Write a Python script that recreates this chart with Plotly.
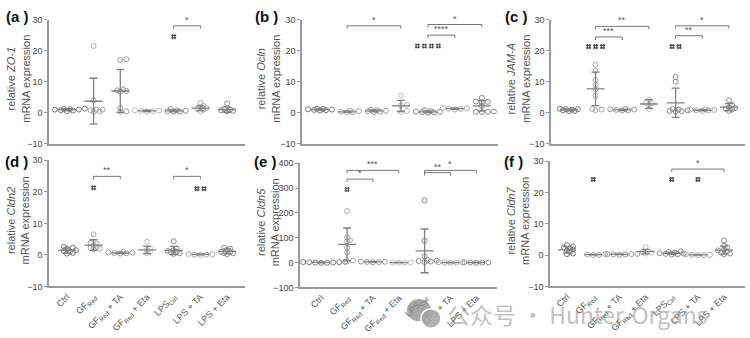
import plotly.graph_objects as go

W, H = 750, 338

groups = ["Ctrl", "GF<sub>Red</sub>", "GF<sub>Red</sub> + TA", "GF<sub>Red</sub> + Eta",
          "LPS<sub>Ctrl</sub>", "LPS + TA", "LPS + Eta"]

# ---------------- (a) ZO-1 ----------------
zo1_pts = [[0.5, 1.0, 1.2, 0.8, 1.0, 1.3, 0.7, 1.1],
           [21.5, 1.0, 0.5, 1.0, 0.3, 0.8, 4.0],
           [17.0, 17.2, 7.0, 7.2, 6.8, 7.5, 1.5, 0.3, 0.4],
           [0.4, 0.6, 0.8, 0.5, 0.7],
           [0.3, 0.5, 0.8, 1.2, 0.4, 0.6],
           [3.2, 1.5, 1.8, 1.0, 0.5, 2.2, 1.2],
           [3.0, 1.0, 0.5, 0.8, 1.2, 0.6]]
zo1_mean = [1.0, 3.7, 7.0, 0.6, 0.6, 1.5, 1.0]
zo1_sd = [0.3, 7.4, 6.9, 0.2, 0.3, 0.8, 0.9]
zo1_sig = [(4, 5, 28.0, "*")]
zo1_hash = [(4, 24.5, 1)]

# ---------------- (b) Ocln ----------------
ocln_pts = [[0.8, 1.2, 1.0, 1.3, 0.7, 1.1, 0.9],
            [0.2, 0.5, 0.1, 0.6, 0.3],
            [0.3, 0.6, 1.0, 0.5, 0.8, 0.2],
            [5.5, 2.5, 0.5, 0.2, 2.3],
            [0.2, 0.1, 0.5, 0.8, 0.3, 0.0, 0.4],
            [1.2, 1.5, 1.0, 1.3, 1.4],
            [4.8, 3.5, 3.3, 3.6, 2.2, 0.3, 0.2, 0.4, 0.3]]
ocln_mean = [1.0, 0.3, 0.6, 2.2, 0.3, 1.3, 2.2]
ocln_sd = [0.2, 0.2, 0.3, 1.8, 0.3, 0.2, 1.7]
ocln_sig = [(1, 3, 28.0, "*"), (4, 5, 25.0, "****"), (4, 6, 28.4, "*")]
ocln_hash = [(4, 21.5, 4)]

# ---------------- (c) JAM-A ----------------
jama_pts = [[0.5, 1.0, 1.2, 0.8, 0.6, 1.1, 1.3],
            [15.5, 13.5, 10.5, 9.0, 7.5, 5.5, 1.0, 0.8, 1.2],
            [1.0, 0.8, 1.2, 0.9, 1.1, 0.7],
            [4.2, 3.0, 2.5, 1.2, 3.2],
            [11.5, 10.0, 1.2, 0.5, 0.8, 0.3, 0.6, 1.0],
            [0.8, 1.0, 0.6, 0.9, 0.7, 1.1],
            [4.0, 2.5, 1.5, 1.2, 1.0, 1.8, 0.6]]
jama_mean = [0.9, 7.7, 0.9, 2.8, 3.2, 0.8, 1.8]
jama_sd = [0.3, 5.4, 0.2, 1.4, 4.7, 0.2, 1.1]
jama_sig = [(1, 2, 24.4, "***"), (1, 3, 27.8, "**"), (4, 5, 24.8, "**"), (4, 6, 28.0, "*")]
jama_hash = [(1, 21.3, 3), (4, 21.3, 2)]

# ---------------- (d) Cldn2 ----------------
cldn2_pts = [[2.5, 2.3, 2.0, 1.5, 1.2, 1.0, 0.6, 0.4],
             [6.5, 3.5, 3.0, 2.5, 2.0, 1.8, 2.2, 3.8],
             [0.5, 0.8, 0.6, 1.0, 0.4, 0.7],
             [4.2, 1.5, 1.0, 2.0, 0.5],
             [4.3, 2.0, 1.5, 1.0, 0.5, 0.3, 0.8, 1.2],
             [0.1, 0.2, 0.0, 0.3, 0.1],
             [2.3, 2.0, 1.6, 1.0, 0.5, 0.2, 0.9, 0.6]]
cldn2_mean = [1.4, 3.1, 0.6, 1.6, 1.4, 0.15, 1.1]
cldn2_sd = [0.8, 1.7, 0.2, 1.2, 1.3, 0.1, 0.8]
cldn2_sig = [(1, 2, 24.9, "**"), (4, 5, 24.9, "*")]
cldn2_hash = [(1, 21.3, 1), (5, 21.0, 2)]

# ---------------- (e) Cldn5 ----------------
cldn5_pts = [[0.0, 2.0, -1.0, 1.0, 3.0, 0.5, -0.5, 1.5],
             [207, 100, 85, 90, 60, 40, 8, 5],
             [2.0, 3.0, 1.0, 4.0, 2.5],
             [0.0, 0.5, -0.5, 0.2],
             [250, 88, 25, 10, 6, 4, 2, 8],
             [0.0, -1.0, 1.0, 0.5, -0.5],
             [0.0, 1.0, -1.0, 0.5, 0.2]]
cldn5_mean = [0.5, 73, 2.5, 0.0, 47, 0.0, 0.2]
cldn5_sd = [1.5, 66, 1.0, 0.5, 88, 0.5, 0.6]
cldn5_sig = [(1, 2, 336, "*"), (1, 3, 371, "***"), (4, 5, 362, "**"), (4, 6, 371, "*")]
cldn5_hash = [(1, 294, 1)]

# ---------------- (f) Cldn7 ----------------
cldn7_pts = [[3.2, 2.8, 2.2, 1.5, 1.0, 0.5, 0.3, 1.8, 2.5],
             [0.1, 0.2, 0.0, 0.3],
             [0.2, 0.3, 0.1, 0.4, 0.2, 0.3],
             [2.5, 1.0, 0.8, 0.5],
             [0.8, 1.0, 0.5, 0.3, 0.2, 0.6, 1.2, 0.4],
             [0.1, 0.0, 0.2, 0.1, 0.0],
             [4.7, 3.0, 2.5, 1.8, 1.2, 0.5, 0.3, 1.5, 0.8]]
cldn7_mean = [1.7, 0.15, 0.25, 1.1, 0.6, 0.1, 1.6]
cldn7_sd = [1.0, 0.1, 0.1, 0.7, 0.35, 0.05, 1.3]
cldn7_sig = [(4, 6, 27.5, "*")]
cldn7_hash = [(1, 24.2, 1), (4, 24.2, 1), (5, 24.2, 1)]

top_ticks = [-10, 0, 10, 20, 30]
e_ticks = [-100, 0, 100, 200, 300, 400]

panels = [
    dict(pts=zo1_pts, mean=zo1_mean, sd=zo1_sd, sig=zo1_sig, hsh=zo1_hash, gene="ZO-1", lab="a",
         xd=(49, 245), yd=(15, 143), yr=(-10, 30), yt=top_ticks, xr=(-0.67, 6.67), bottom=False, lx=4, ly=12, tx=0),
    dict(pts=ocln_pts, mean=ocln_mean, sd=ocln_sd, sig=ocln_sig, hsh=ocln_hash, gene="Ocln", lab="b",
         xd=(302, 498), yd=(15, 143), yr=(-10, 30), yt=top_ticks, xr=(-0.67, 6.6), bottom=False, lx=253, ly=12, tx=250),
    dict(pts=jama_pts, mean=jama_mean, sd=jama_sd, sig=jama_sig, hsh=jama_hash, gene="JAM-A", lab="c",
         xd=(551, 745), yd=(15, 143), yr=(-10, 30), yt=top_ticks, xr=(-0.67, 6.6), bottom=False, lx=503, ly=12, tx=500),
    dict(pts=cldn2_pts, mean=cldn2_mean, sd=cldn2_sd, sig=cldn2_sig, hsh=cldn2_hash, gene="Cldn2", lab="d",
         xd=(49, 245), yd=(160, 290), yr=(-10, 30), yt=top_ticks, xr=(-0.67, 6.67), bottom=True, lx=3, ly=161, tx=0),
    dict(pts=cldn5_pts, mean=cldn5_mean, sd=cldn5_sd, sig=cldn5_sig, hsh=cldn5_hash, gene="Cldn5", lab="e",
         xd=(300, 497), yd=(163, 291), yr=(-100, 400), yt=e_ticks, xr=(-0.82, 6.8), bottom=True, lx=252, ly=161, tx=250),
    dict(pts=cldn7_pts, mean=cldn7_mean, sd=cldn7_sd, sig=cldn7_sig, hsh=cldn7_hash, gene="Cldn7", lab="f",
         xd=(550, 745), yd=(161, 290), yr=(-10, 30), yt=top_ticks, xr=(-0.65, 6.8), bottom=True, lx=502, ly=161, tx=500),
]

pt_colors = ["#7a7a7a", "#a8a8a8", "#999999", "#bdbdbd", "#8a8a8a", "#aaaaaa", "#8c8c8c"]
bar_color = "#808080"
axis_color = "#9a9a9a"
FONT = "Liberation Sans, Arial"


def swarm(vals, ppu, step=3.0, mind=3.2):
    order = sorted(range(len(vals)), key=lambda i: vals[i])
    placed = []
    offs = [0.0] * len(vals)
    for i in order:
        y = vals[i] * ppu
        cands = [0.0]
        for m in range(1, 12):
            cands += [m * step, -m * step]
        for c in cands:
            if all((c - px) ** 2 + (y - py) ** 2 >= mind ** 2 for px, py in placed):
                offs[i] = c
                placed.append((c, y))
                break
    return offs


fig = go.Figure()
shapes = []
annots = []

for k, p in enumerate(panels, start=1):
    xa = "x" if k == 1 else f"x{k}"
    ya = "y" if k == 1 else f"y{k}"
    xw = p["xd"][1] - p["xd"][0]
    yh = p["yd"][1] - p["yd"][0]
    cat_px = xw / (p["xr"][1] - p["xr"][0])
    ppu = yh / (p["yr"][1] - p["yr"][0])

    # points
    xs, ys, cs = [], [], []
    for g, vals in enumerate(p["pts"]):
        offs = swarm(vals, ppu)
        for v, o in zip(vals, offs):
            xs.append(g + o / cat_px)
            ys.append(v)
            cs.append(pt_colors[g])
    fig.add_trace(go.Scatter(x=xs, y=ys, mode="markers", xaxis=xa, yaxis=ya, showlegend=False,
                             marker=dict(symbol="circle-open", size=5, color=cs, line=dict(width=1, color=cs))))
    # error bars
    gi = list(range(len(groups)))
    fig.add_trace(go.Scatter(x=gi, y=p["mean"], mode="markers", xaxis=xa, yaxis=ya, showlegend=False,
                             marker=dict(size=1, color="rgba(0,0,0,0)"),
                             error_y=dict(type="data", array=p["sd"], visible=True, width=4,
                                          thickness=1.3, color=bar_color)))
    # mean lines
    mx, my = [], []
    hw = 9.0 / cat_px
    for g, m in enumerate(p["mean"]):
        mx += [g - hw, g + hw, None]
        my += [m, m, None]
    fig.add_trace(go.Scatter(x=mx, y=my, mode="lines", xaxis=xa, yaxis=ya, showlegend=False,
                             line=dict(color=bar_color, width=1.3)))
    # hash marks drawn as "hash" markers
    hx, hy = [], []
    hstep = 7.0 / cat_px
    for (g, yv, n) in p["hsh"]:
        for j in range(n):
            hx.append(g + (j - (n - 1) / 2) * hstep)
            hy.append(yv)
    fig.add_trace(go.Scatter(x=hx, y=hy, mode="markers", xaxis=xa, yaxis=ya, showlegend=False,
                             marker=dict(symbol="hash", size=5, color="#4a4a4a",
                                         line=dict(width=1.1, color="#4a4a4a"))))

    # significance brackets
    tick_u = 3.0 / ppu
    for (g1, g2, yv, txt) in p["sig"]:
        for (x0, y0, x1, y1) in [(g1, yv, g2, yv), (g1, yv, g1, yv - tick_u), (g2, yv, g2, yv - tick_u)]:
            shapes.append(dict(type="line", xref=xa, yref=ya, x0=x0, y0=y0, x1=x1, y1=y1,
                               line=dict(color="#777777", width=1)))
        annots.append(dict(x=(g1 + g2) / 2, y=yv, xref=xa, yref=ya, text=txt, showarrow=False,
                           yanchor="bottom", yshift=-1, font=dict(size=9, color="#555555", family=FONT)))

    # panel label
    annots.append(dict(x=p["lx"] / W, y=1 - p["ly"] / H, xref="paper", yref="paper",
                       text="<b>(" + p["lab"] + " )</b>",
                       showarrow=False, xanchor="left", yanchor="middle",
                       font=dict(size=15, color="#111111", family=FONT)))
    # y title
    ymid = (p["yd"][0] + p["yd"][1]) / 2 - 3
    annots.append(dict(x=(p["tx"] + 18) / W, y=1 - ymid / H, xref="paper", yref="paper",
                       text="relative <i>" + p["gene"] + "</i><br>mRNA expression",
                       textangle=-90, showarrow=False, xanchor="center", yanchor="middle",
                       font=dict(size=11, color="#555555", family=FONT)))

    xaxis = dict(domain=[p["xd"][0] / W, p["xd"][1] / W], range=list(p["xr"]), anchor=ya,
                 showline=True, linecolor=axis_color, linewidth=1.5, showgrid=False, zeroline=False,
                 tickvals=gi, ticktext=groups, showticklabels=p["bottom"], ticks="",
                 tickangle=-45, tickfont=dict(size=9, color="#555555", family=FONT))
    yaxis = dict(domain=[1 - p["yd"][1] / H, 1 - p["yd"][0] / H], range=list(p["yr"]), anchor=xa,
                 showline=True, linecolor=axis_color, linewidth=1.5, showgrid=False, zeroline=False,
                 tickvals=p["yt"], ticks="outside", ticklen=3, tickcolor=axis_color, tickwidth=1,
                 tickfont=dict(size=9, color="#444444", family=FONT))
    fig.update_layout({("xaxis" if k == 1 else f"xaxis{k}"): xaxis,
                       ("yaxis" if k == 1 else f"yaxis{k}"): yaxis})

# watermark
shapes.append(dict(type="circle", xref="paper", yref="paper", x0=407 / W, x1=431 / W, y0=1 - 326 / H, y1=1 - 303 / H,
                   fillcolor="rgba(140,140,140,0.75)", line=dict(width=0)))
shapes.append(dict(type="circle", xref="paper", yref="paper", x0=421 / W, x1=441 / W, y0=1 - 333 / H, y1=1 - 313 / H,
                   fillcolor="rgba(165,165,165,0.85)", line=dict(color="white", width=1.5)))
annots.append(dict(x=445 / W, y=1 - 318 / H, xref="paper", yref="paper", text="公众号 · Hunter-Organs",
                   showarrow=False, xanchor="left", yanchor="middle",
                   font=dict(size=23, color="rgba(140,140,140,0.55)", family="Noto Sans CJK SC")))

fig.update_layout(width=W, height=H, margin=dict(l=0, r=0, t=0, b=0), paper_bgcolor="white",
                  plot_bgcolor="white", shapes=shapes, annotations=annots, showlegend=False)

fig.write_html("out.html")
